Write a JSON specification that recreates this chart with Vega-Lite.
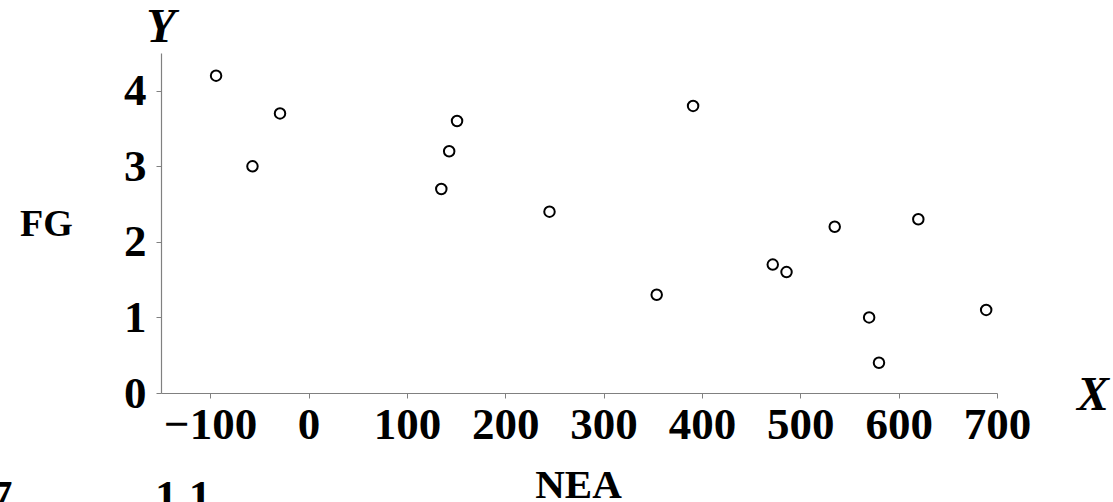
{
  "$schema": "https://vega.github.io/schema/vega-lite/v6.json",
  "width": 836,
  "height": 340,
  "autosize": {"type": "none"},
  "padding": {"left": 161, "top": 53, "right": 116, "bottom": 109},
  "background": "white",
  "config": {"view": {"stroke": null}, "font": "Liberation Serif"},
  "layer": [
    {
      "data": {
        "values": [
          {"NEA": -94, "FG": 4.2},
          {"NEA": -57, "FG": 3.0},
          {"NEA": -29, "FG": 3.7},
          {"NEA": 135, "FG": 2.7},
          {"NEA": 143, "FG": 3.2},
          {"NEA": 151, "FG": 3.6},
          {"NEA": 245, "FG": 2.4},
          {"NEA": 354, "FG": 1.3},
          {"NEA": 391, "FG": 3.8},
          {"NEA": 472, "FG": 1.7},
          {"NEA": 486, "FG": 1.6},
          {"NEA": 535, "FG": 2.2},
          {"NEA": 570, "FG": 1.0},
          {"NEA": 580, "FG": 0.4},
          {"NEA": 620, "FG": 2.3},
          {"NEA": 689, "FG": 1.1}
        ]
      },
      "mark": {"type": "point", "shape": "circle", "filled": false, "stroke": "black", "strokeWidth": 2, "size": 110, "opacity": 1},
      "encoding": {
        "x": {
          "field": "NEA",
          "type": "quantitative",
          "scale": {"domain": [-150, 700], "nice": false, "zero": false},
          "axis": {
            "title": "NEA",
            "values": [-100, 0, 100, 200, 300, 400, 500, 600, 700],
            "format": "d",
            "grid": false,
            "domainColor": "#808080",
            "domainWidth": 1.2,
            "tickColor": "#808080",
            "tickSize": 5,
            "labelPadding": 4,
            "labelFont": "Liberation Serif",
            "labelFontWeight": "bold",
            "labelFontSize": 45,
            "labelColor": "black",
            "labelFlush": false,
            "labelOverlap": false,
            "titleFont": "Liberation Serif",
            "titleFontWeight": "bold",
            "titleFontSize": 41,
            "titleColor": "black",
            "titleBaseline": "alphabetic",
            "titleAlign": "center",
            "titleX": 417,
            "titleY": 104
          }
        },
        "y": {
          "field": "FG",
          "type": "quantitative",
          "scale": {"domain": [0, 4.5], "nice": false},
          "axis": {
            "title": "FG",
            "values": [0, 1, 2, 3, 4],
            "format": "d",
            "grid": false,
            "domainColor": "#808080",
            "domainWidth": 1.2,
            "tickColor": "#808080",
            "tickSize": 5,
            "labelPadding": 10,
            "labelFont": "Liberation Serif",
            "labelFontWeight": "bold",
            "labelFontSize": 45,
            "labelColor": "black",
            "labelFlush": false,
            "labelOverlap": false,
            "titleFont": "Liberation Serif",
            "titleFontWeight": "bold",
            "titleFontSize": 38,
            "titleColor": "black",
            "titleAngle": 0,
            "titleAlign": "center",
            "titleBaseline": "alphabetic",
            "titleX": -115,
            "titleY": 182
          }
        }
      }
    },
    {
      "data": {"values": [{"label": "Y"}]},
      "mark": {"type": "text", "align": "center", "baseline": "alphabetic", "dy": -11, "font": "Liberation Serif", "fontSize": 48, "fontStyle": "italic", "fontWeight": "bold", "color": "black"},
      "encoding": {
        "x": {"datum": -150, "type": "quantitative"},
        "y": {"datum": 4.5, "type": "quantitative"},
        "text": {"field": "label"}
      }
    },
    {
      "data": {"values": [{"label": "X"}]},
      "mark": {"type": "text", "align": "center", "baseline": "alphabetic", "dx": 96, "dy": 17, "font": "Liberation Serif", "fontSize": 48, "fontStyle": "italic", "fontWeight": "bold", "color": "black"},
      "encoding": {
        "x": {"datum": 700, "type": "quantitative"},
        "y": {"datum": 0, "type": "quantitative"},
        "text": {"field": "label"}
      }
    },
    {
      "data": {"values": [{"label": "7"}]},
      "mark": {"type": "text", "align": "right", "baseline": "alphabetic", "font": "Liberation Serif", "fontSize": 45, "fontWeight": "bold", "color": "black"},
      "encoding": {
        "x": {"datum": -301, "type": "quantitative"},
        "y": {"datum": -1.56, "type": "quantitative"},
        "text": {"field": "label"}
      }
    },
    {
      "data": {"values": [{"label": "1.1"}]},
      "mark": {"type": "text", "align": "left", "baseline": "alphabetic", "font": "Liberation Serif", "fontSize": 45, "fontWeight": "bold", "color": "black"},
      "encoding": {
        "x": {"datum": -156, "type": "quantitative"},
        "y": {"datum": -1.56, "type": "quantitative"},
        "text": {"field": "label"}
      }
    }
  ]
}
